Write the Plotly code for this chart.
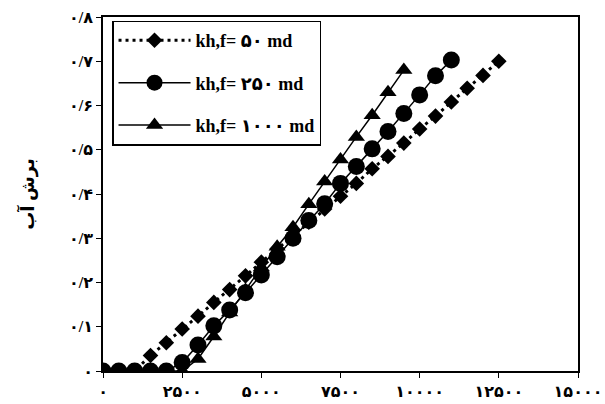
import plotly.graph_objects as go

# Data
x_50 = [0, 500, 1000, 1500, 2000, 2500, 3000, 3500, 4000, 4500, 5000, 5500, 6000, 6500,
        7000, 7500, 8000, 8500, 9000, 9500, 10000, 10500, 11000, 11500, 12000, 12500]
y_50 = [0, 0, 0, 0.035, 0.064, 0.095, 0.124, 0.155, 0.184, 0.215, 0.246, 0.276, 0.306, 0.336,
        0.366, 0.395, 0.424, 0.457, 0.485, 0.515, 0.547, 0.576, 0.608, 0.639, 0.668, 0.70]

x_250 = [0, 500, 1000, 1500, 2000, 2500, 3000, 3500, 4000, 4500, 5000, 5500, 6000, 6500,
         7000, 7500, 8000, 8500, 9000, 9500, 10000, 10500, 11000]
y_250 = [0, 0, 0, 0, 0, 0.019, 0.059, 0.102, 0.138, 0.177, 0.217, 0.258, 0.300, 0.340,
         0.378, 0.424, 0.462, 0.502, 0.541, 0.582, 0.624, 0.667, 0.703]

x_1000 = [0, 500, 1000, 1500, 2000, 2500, 3000, 3500, 4000, 4500, 5000, 5500, 6000, 6500,
          7000, 7500, 8000, 8500, 9000, 9500]
y_1000 = [0, 0, 0, 0, 0, 0, 0.027, 0.078, 0.132, 0.183, 0.234, 0.281, 0.325, 0.377,
          0.428, 0.478, 0.529, 0.578, 0.630, 0.680]

names = ["kh,f= ۵۰ md", "kh,f= ۲۵۰ md", "kh,f= ۱۰۰۰ md"]

x_tickvals = [0, 2500, 5000, 7500, 10000, 12500, 15000]
x_ticktext = ["۰", "۲۵۰۰", "۵۰۰۰", "۷۵۰۰", "۱۰۰۰۰", "۱۲۵۰۰", "۱۵۰۰۰"]
y_tickvals = [0, 0.1, 0.2, 0.3, 0.4, 0.5, 0.6, 0.7, 0.8]
y_ticktext = ["۰", "۰/۱", "۰/۲", "۰/۳", "۰/۴", "۰/۵", "۰/۶", "۰/۷", "۰/۸"]
y_title = "برش آب"

FONT = "Liberation Serif, Times New Roman, DejaVu Serif, DejaVu Sans, serif"

fig = go.Figure()
fig.add_trace(go.Scatter(
    x=x_50, y=y_50, name=names[0], mode="lines+markers", legendgroup="a",
    line=dict(color="black", width=3, dash="3px,4px"),
    marker=dict(symbol="diamond", size=12, color="black"),
))
fig.add_trace(go.Scatter(
    x=x_250, y=y_250, name=names[1], mode="lines+markers", legendgroup="b",
    line=dict(color="black", width=1.5),
    marker=dict(symbol="circle", size=17, color="black"),
))
fig.add_trace(go.Scatter(
    x=x_1000, y=y_1000, name=names[2], mode="lines+markers", legendgroup="c",
    line=dict(color="black", width=1.5),
    marker=dict(symbol="triangle-up", size=15, color="black"),
))

axis_common = dict(
    showline=True, linecolor="black", linewidth=1.5, mirror=True,
    ticks="outside", ticklen=5, tickcolor="black", tickwidth=1,
    showgrid=False, zeroline=False, automargin=False,
    tickfont=dict(family=FONT, size=16, color="black", weight="bold"),
)

fig.update_layout(
    width=605, height=404,
    margin=dict(l=103, r=27, t=17, b=33),
    paper_bgcolor="white", plot_bgcolor="white",
    font=dict(family=FONT, color="black"),
    showlegend=True,
    legend=dict(
        x=0.019, y=0.99, xanchor="left", yanchor="top",
        bgcolor="white", bordercolor="black", borderwidth=1.5,
        font=dict(family=FONT, size=18, color="black", weight="bold"),
        traceorder="grouped", tracegroupgap=16, itemwidth=72,
    ),
    xaxis=dict(range=[0, 15000], tickvals=x_tickvals, ticktext=x_ticktext,
               **axis_common),
    yaxis=dict(range=[0, 0.8], tickvals=y_tickvals, ticktext=y_ticktext,
               title=dict(text=y_title, standoff=30,
                          font=dict(family=FONT, size=18, color="black", weight="bold")),
               **axis_common),
)

fig.write_html("out.html")
